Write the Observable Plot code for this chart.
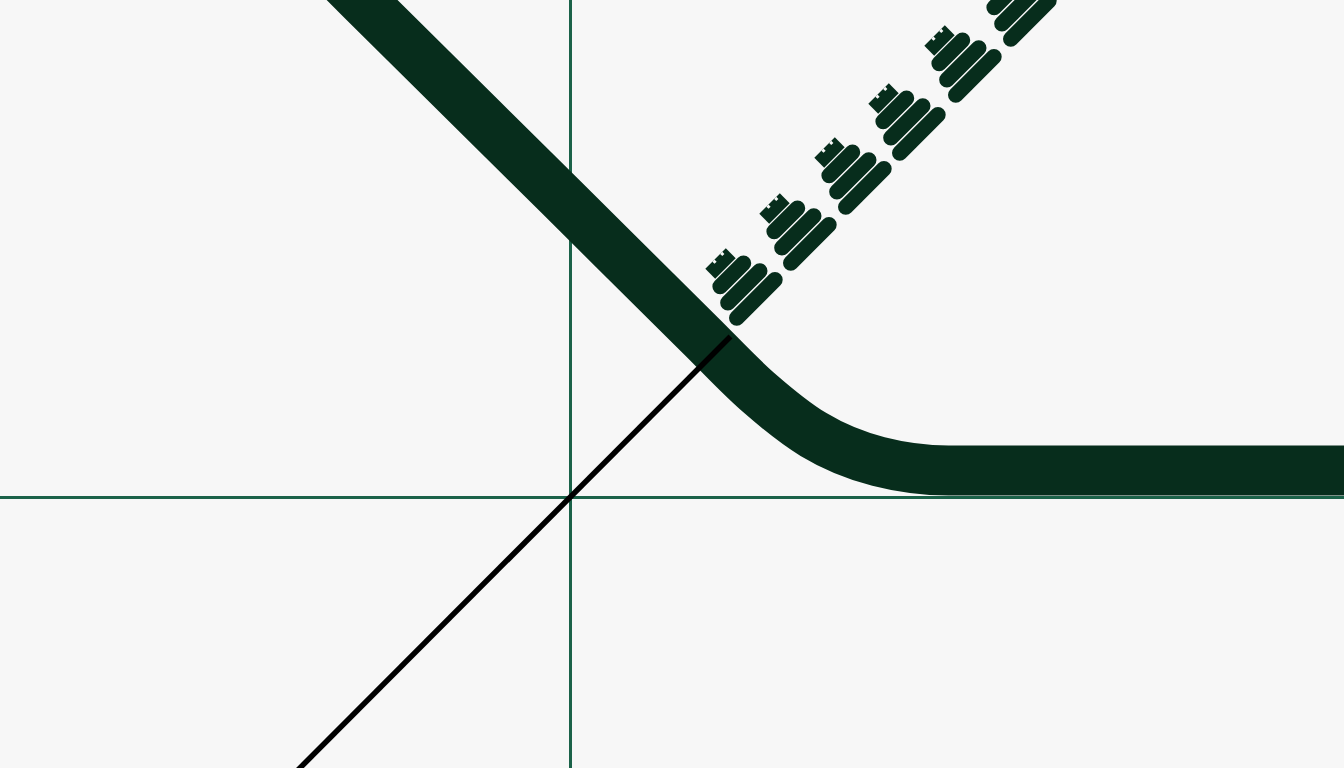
<!DOCTYPE html>
<html>
<head>
<meta charset="utf-8">
<script src="https://cdn.jsdelivr.net/npm/d3@7"></script>
<script src="https://cdn.jsdelivr.net/npm/@observablehq/plot@0.6"></script>
<style>
  html, body { margin: 0; padding: 0; background: #f7f7f7; overflow: hidden; }
  #chart svg { display: block; }
</style>
</head>
<body>
<div id="chart"></div>
<script>
// ---- data (chart units: origin at the axis crossing, y up) ----
// thick curve centre-line
const curveX = [-230, -208, -10, 130, 187, 243, 308, 378, 530, 800];
const curveY = [519, 497, 301, 162, 106, 63, 36, 27, 27, 27];
// thin black diagonal
const diagX = [-300, 160];
const diagY = [-300, 161];
// group anchor positions (centre of the small notched block in each group)
const groupX = [150, 204, 259, 313, 369, 424];
const groupY = [234, 289, 345, 399, 457, 513];
// rounded bars in each group: offset across the diagonal, length along it
const barOffset = [16, 33, 50];
const barLength = [33, 45, 54];
// notched block
const blockLength = 29;
const notchAt = [-3, 8];

const u = [Math.SQRT1_2, Math.SQRT1_2];     // along the diagonal (up-right)
const n = [Math.SQRT1_2, -Math.SQRT1_2];    // across it (down-right on screen)

const curve = curveX.map((x, i) => ({x, y: curveY[i]}));
const diag = diagX.map((x, i) => ({x, y: diagY[i]}));

const bars = [];
const blocks = [];
const notches = [];
groupX.forEach((gx, g) => {
  const gy = groupY[g];
  barOffset.forEach((off, b) => {
    const cx = gx + n[0] * off, cy = gy + n[1] * off, h = barLength[b] / 2;
    bars.push({x1: cx - u[0] * h, y1: cy - u[1] * h, x2: cx + u[0] * h, y2: cy + u[1] * h});
  });
  const h = blockLength / 2;
  blocks.push({x1: gx - u[0] * h, y1: gy - u[1] * h, x2: gx + u[0] * h, y2: gy + u[1] * h});
  notchAt.forEach(a => {
    const cx = gx + u[0] * a - n[0] * 7, cy = gy + u[1] * a - n[1] * 7;
    notches.push({x1: cx, y1: cy, x2: cx + n[0] * 3, y2: cy + n[1] * 3});
  });
});

const green = "#072d1c";
const chart = Plot.plot({
  width: 1344,
  height: 768,
  margin: 0,
  x: {domain: [-570, 774], axis: null},
  y: {domain: [-271, 497], axis: null},
  style: {background: "transparent"},
  marks: [
    Plot.ruleX([0], {stroke: "#1b6249", strokeWidth: 3}),
    Plot.ruleY([0], {stroke: "#1b6249", strokeWidth: 3}),
    Plot.line(curve, {x: "x", y: "y", stroke: green, strokeWidth: 50, curve: "monotone-x", strokeLinecap: "butt", strokeLinejoin: "round", clip: true}),
    Plot.line(diag, {x: "x", y: "y", stroke: "#000", strokeWidth: 5.5, strokeLinecap: "butt", clip: true}),
    Plot.link(blocks, {x1: "x1", y1: "y1", x2: "x2", y2: "y2", stroke: green, strokeWidth: 14, strokeLinecap: "butt", clip: true}),
    Plot.link(notches, {x1: "x1", y1: "y1", x2: "x2", y2: "y2", stroke: "#f7f7f7", strokeWidth: 3, strokeLinecap: "butt", clip: true}),
    Plot.link(bars, {x1: "x1", y1: "y1", x2: "x2", y2: "y2", stroke: green, strokeWidth: 15.5, strokeLinecap: "round", clip: true})
  ]
});
document.getElementById("chart").append(chart);
</script>
</body>
</html>
